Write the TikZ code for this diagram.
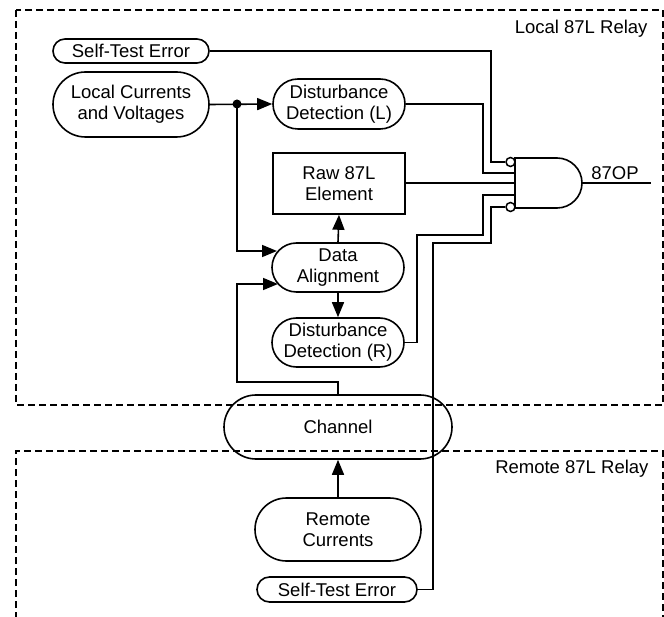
\documentclass[tikz,border=0pt]{standalone}
\usepackage{fontspec}
\setmainfont{Liberation Sans}
\usetikzlibrary{shapes.misc,arrows.meta,calc}
\tikzset{
  lbl/.style={font=\fontsize{18.5}{21}\selectfont, align=center},
  pill/.style={rounded rectangle, draw, line width=1.6pt, inner sep=0pt, lbl},
  boxnode/.style={rectangle, draw, line width=1.6pt, inner sep=0pt, lbl},
  wire/.style={line width=1.6pt},
  arr/.style={wire, -{Triangle[length=15pt,width=12pt]}},
  region/.style={line width=1.6pt, dash pattern=on 7pt off 4pt},
  bubble/.style={circle, draw, line width=1.5pt, fill=white, minimum size=9pt, inner sep=0pt},
}
\begin{document}
\begin{tikzpicture}[x=1pt,y=-1pt]
\useasboundingbox (0,0) rectangle (664,617);
\fill[white] (0,0) rectangle (664,617);
% regions
\draw[region] (16,10) rectangle (663,405);
\begin{scope}
\clip (0,0) rectangle (664,617);
\draw[region] (16,630) -- (16,451) -- (663,451) -- (663,630);
\end{scope}
\node[lbl, anchor=east] (loc) at (651,29) {Local 87L Relay};
\node[lbl, anchor=east] (rem) at (652,469) {Remote 87L Relay};

% nodes
\node[pill, minimum width=156pt, minimum height=24pt] (ste) at (131,51) {Self-Test Error};
\node[pill, minimum width=156pt, minimum height=65pt] (lcv) at (131,104.5) {Local Currents\\and Voltages};
\node[pill, minimum width=132pt, minimum height=50pt] (ddl) at (339,104) {Disturbance\\Detection (L)};
\node[boxnode, minimum width=132pt, minimum height=61pt] (raw) at (339,183.5) {Raw 87L\\Element};
\node[pill, minimum width=132pt, minimum height=49pt] (da) at (338,267.5) {Data\\Alignment};
\node[pill, minimum width=132pt, minimum height=49pt] (ddr) at (338,342.5) {Disturbance\\Detection (R)};
\node[pill, minimum width=228pt, minimum height=64pt] (chan) at (338,427) {Channel};
\node[pill, minimum width=166pt, minimum height=63pt] (rc) at (338,529.5) {Remote\\Currents};
\node[pill, minimum width=160pt, minimum height=25pt] (rste) at (337,589.5) {Self-Test Error};

% AND gate
\draw[wire] (515,158) -- (557,158) arc (-90:90:25) -- (515,208) -- cycle;
\coordinate (gout) at (582,183);
\coordinate (g2) at (515,173);
\coordinate (g3) at (515,183);
\coordinate (g4) at (515,195);
\node[bubble] (b1) at (510.5,162) {};
\node[bubble] (b5) at (510.5,207) {};
\coordinate (oend) at (651,183);
\draw[wire] (gout) -- (oend);
\node[lbl, anchor=south] (op) at (615,183) {87OP};

% junction
\coordinate (j) at (237,104);
\fill (j) circle (4.5pt);

% connectors
\draw[arr] (lcv.east) -- (ddl.west);
\draw[arr] (j) -- (237,251) -- (277,251);
\draw[arr] (chan.north) -- (338,382) -| (237,284) -- (278,284);
\draw[arr] (da.north) -- (raw.south);
\draw[arr] (da.south) -- (ddr.north);
\draw[arr] (rc.north) -- (chan.south);

\draw[wire] (ste.east) -| (491,162) -- (b1.west);
\draw[wire] (ddl.east) -| (483,173) -- (g2);
\draw[wire] (raw.east |- g3) -- (g3);
\draw[wire] (ddr.east) -| (417,235) -| (483,195) -- (g4);
\draw[wire] (rste.east) -| (433,243) -| (491,207) -- (b5.west);
\end{tikzpicture}
\end{document}
